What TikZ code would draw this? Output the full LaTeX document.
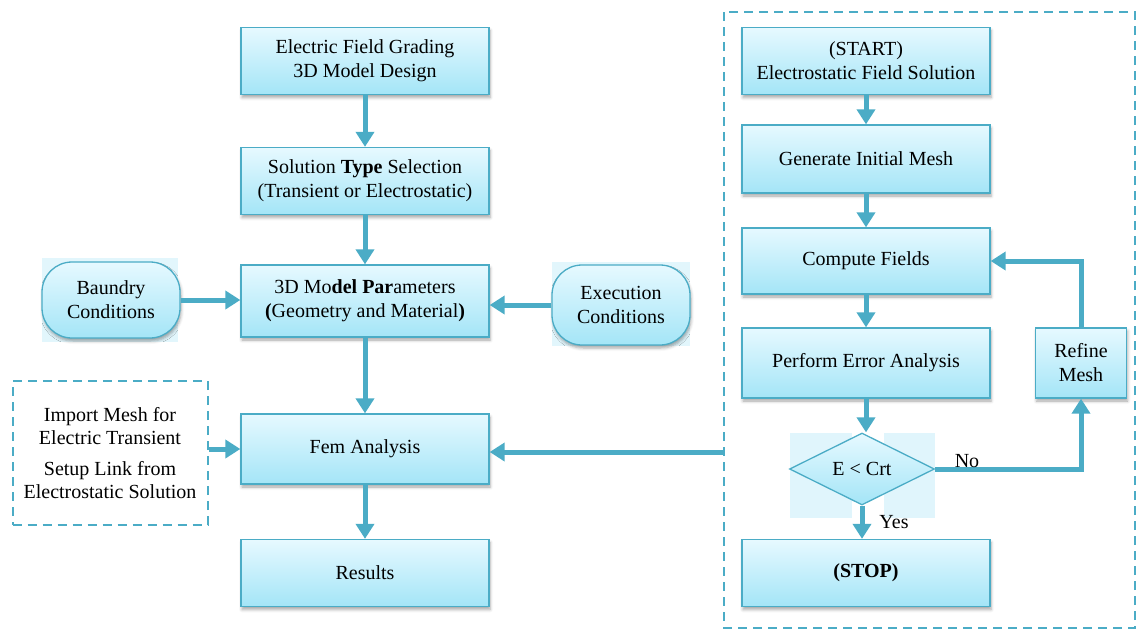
\documentclass[tikz,border=0pt]{standalone}
\usepackage{fontspec}
\setmainfont{Liberation Serif}
\usetikzlibrary{arrows.meta,shapes.geometric,shadows.blur,positioning}
\definecolor{edgec}{HTML}{4BACC6}
\definecolor{filltop}{HTML}{E6F9FF}
\definecolor{fillbot}{HTML}{A4E5F7}
\definecolor{pale}{HTML}{D6F2FB}
\tikzset{
  txt/.style={font=\fontsize{20}{24}\selectfont, align=center},
  stepbox/.style={txt, rectangle, draw=edgec, line width=1.3pt,
    top color=filltop, bottom color=fillbot,
    minimum width=248pt, minimum height=67pt, inner sep=2pt,
    blur shadow={shadow xshift=1pt, shadow yshift=-3pt, shadow blur radius=3pt, shadow opacity=35}},
  condbox/.style={stepbox, rounded corners=30pt, minimum width=138pt, minimum height=76pt},
  decide/.style={txt, diamond, aspect=2, draw=edgec, line width=1.3pt,
    top color=filltop, bottom color=fillbot,
    minimum width=145pt, minimum height=72pt, inner sep=0pt},
  flow/.style={draw=edgec, line width=5pt, -{Triangle[width=18pt,length=15pt]}},
  frame/.style={draw=edgec, line width=2pt, dash pattern=on 9pt off 6pt},
  lbl/.style={font=\fontsize{20}{22}\selectfont}
}
\begin{document}
\begin{tikzpicture}[x=1pt,y=-1pt]
\useasboundingbox (0,0) rectangle (1140,630);

% pale backdrops behind the rounded and diamond shapes
\fill[pale!70] (42,258) rectangle (178,342);
\fill[pale!70] (552,262) rectangle (690,346);
\fill[pale!75] (790,433) rectangle (852,518);
\fill[pale!75] (884,433) rectangle (935,518);

% left column
\node[stepbox] (design) at (365,61) {Electric Field Grading\\3D Model Design};
\node[stepbox] (type) at (365,181) {Solution \textbf{Type} Selection\\(Transient or Electrostatic)};
\node[stepbox, minimum height=72pt] (param) at (365,301) {3D Mo\textbf{del Par}ameters\\\textbf{(}Geometry and Material\textbf{)}};
\node[stepbox, minimum height=70pt] (fem) at (365,449) {Fem Analysis};
\node[stepbox] (res) at (365,573) {Results};

\node[condbox] (bound) at (111,300) {Baundry\\Conditions};
\node[condbox, minimum height=80pt] (exec) at (621,305) {Execution\\Conditions};

% imported data
\node[txt, frame, minimum width=195pt, minimum height=144pt, inner sep=0pt,
  font=\fontsize{20}{23}\selectfont] (imp) at (110,453)
  {Import Mesh for\\Electric Transient\\[8pt]Setup Link from\\Electrostatic Solution};

% electrostatic solution loop
\draw[frame] (724,12) rectangle (1135,628);
\coordinate (loopin) at (724,452);

\node[stepbox] (start) at (866,61) {(START)\\Electrostatic Field Solution};
\node[stepbox, minimum height=68pt] (mesh) at (866,159) {Generate Initial Mesh};
\node[stepbox, minimum height=66pt] (comp) at (866,261) {Compute Fields};
\node[stepbox, minimum height=70pt] (err) at (866,363) {Perform Error Analysis};
\node[decide] (crit) at (862,469) {E < Crt};
\node[stepbox] (stop) at (866,573) {\textbf{(STOP)}};
\node[stepbox, minimum width=91pt, minimum height=70pt] (refine) at (1081,363) {Refine\\Mesh};

% main flow
\draw[flow] (design) -- (type);
\draw[flow] (type) -- (param);
\draw[flow] (param) -- (fem);
\draw[flow] (fem) -- (res);
\draw[flow] (bound) -- (bound -| param.west);
\draw[flow] (exec) -- (exec -| param.east);
\draw[flow] (imp.east |- fem) -- (fem);
\draw[flow] (loopin) -- (loopin -| fem.east);

% loop flow
\draw[flow] (start) -- (mesh);
\draw[flow] (mesh) -- (comp);
\draw[flow] (comp) -- (err);
\draw[flow] (err) -- (err |- crit.north);
\draw[flow] (crit) -- (crit |- stop.north);
\draw[flow] (crit.east) -| (refine.south);
\draw[flow] (refine.north) |- (comp.east);

\node[lbl] (no) at (967,461) {No};
\node[lbl] (yes) at (894,522) {Yes};
\end{tikzpicture}
\end{document}
